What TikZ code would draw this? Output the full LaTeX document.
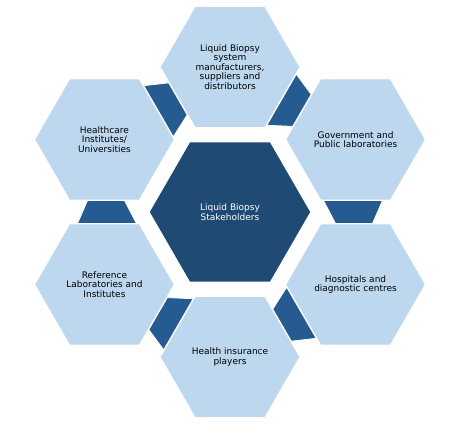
\documentclass[tikz,border=0pt]{standalone}
\usepackage{fontspec}
\setmainfont{DejaVu Sans}
\usetikzlibrary{shapes.geometric}
\definecolor{hexlight}{HTML}{BDD7EE}
\definecolor{hexdark}{HTML}{1F4A73}
\definecolor{linkblue}{HTML}{255B91}
\begin{document}
\begin{tikzpicture}[x=1pt, y=1pt, font={\fontsize{9}{9.4}\selectfont},
  hexa/.style={regular polygon, regular polygon sides=6, minimum size=140pt,
    inner sep=0pt, fill=hexlight, draw=white, line width=1.2pt, align=center},
  hub/.style={hexa, minimum size=162pt, fill=hexdark, text=white},
  link/.style={fill=linkblue, draw=white, line width=0.8pt}]
  \useasboundingbox (-230,-220) rectangle (233,212);
  \node[hub] (stake) at (0,0) {Liquid Biopsy\\Stakeholders};
  \foreach \a/\n/\t in {90/mfr/{Liquid Biopsy\\system\\manufacturers,\\suppliers and\\distributors},
      30/govt/{Government and\\Public laboratories},
      -30/hosp/{Hospitals and\\diagnostic centres},
      -90/insur/{Health insurance\\players},
      -150/reflab/{Reference\\Laboratories and\\Institutes},
      150/hcare/{Healthcare\\Institutes/\\Universities}}
    \node[hexa] (\n) at (\a:145) {\t};
  \foreach \a in {0,60,...,300}
    \draw[link, rotate=\a] (93.5,11.5) -- (152.5,11.5) -- (142.5,-11.5) -- (105.5,-11.5) -- cycle;
\end{tikzpicture}
\end{document}
